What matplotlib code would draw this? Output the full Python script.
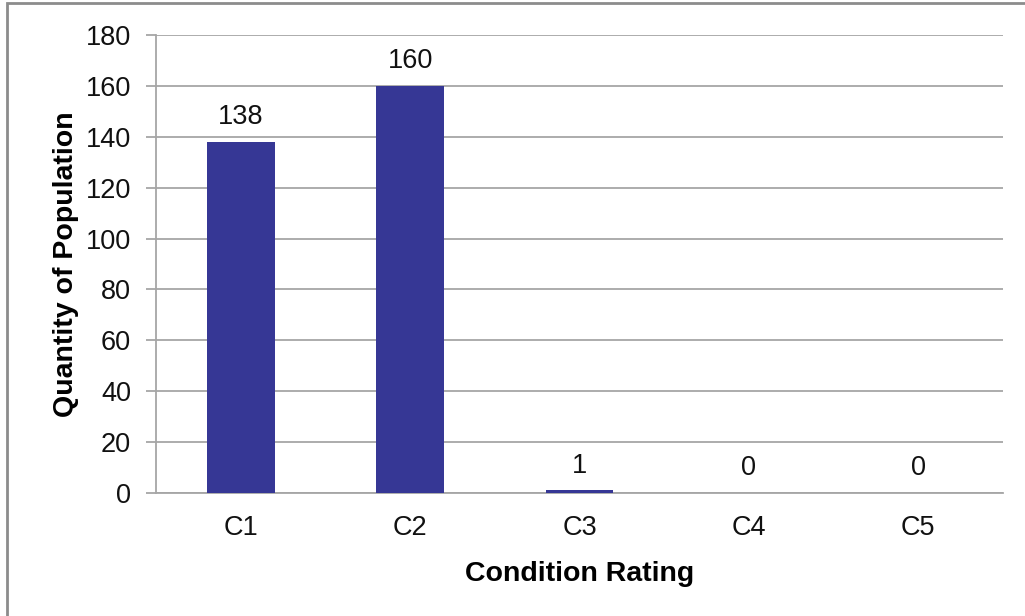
import matplotlib
matplotlib.use("Agg")
import matplotlib.pyplot as plt
from matplotlib.patches import Rectangle

categories = ["C1", "C2", "C3", "C4", "C5"]
counts = [138, 160, 1, 0, 0]
y_ticks = [0, 20, 40, 60, 80, 100, 120, 140, 160, 180]

plt.rcParams["font.family"] = ["Liberation Sans", "DejaVu Sans"]

fig = plt.figure(figsize=(10.25, 6.16), dpi=100)
ax = fig.add_axes([156 / 1025, 1 - 493 / 616, (1003 - 156) / 1025, (493 - 35) / 616])

grid_color = "#a6a6a6"
text_color = "#111111"
x = list(range(len(categories)))
ax.bar(x, counts, width=0.4, color="#363795", zorder=3)

for xi, v in zip(x, counts):
    ax.annotate(str(v), (xi, v), xytext=(0, 8.5), textcoords="offset points",
                ha="center", va="bottom", fontsize=19.5, color=text_color)

ax.set_xlim(-0.5, len(categories) - 0.5)
ax.set_ylim(0, 180)
ax.set_yticks(y_ticks)
ax.set_xticks(x)
ax.set_xticklabels(categories)

ax.yaxis.grid(True, color=grid_color, linewidth=1.3, zorder=0)
ax.set_axisbelow(True)
for side in ["top", "right"]:
    ax.spines[side].set_visible(False)
ax.spines["left"].set_color(grid_color)
ax.spines["left"].set_linewidth(1.3)
ax.spines["bottom"].set_color(grid_color)
ax.spines["bottom"].set_linewidth(1.3)

ax.tick_params(axis="y", length=7, width=1.3, color=grid_color, labelsize=19.5,
               pad=11, labelcolor=text_color)
ax.tick_params(axis="x", length=0, labelsize=19.5, pad=16, labelcolor=text_color)

ax.set_ylabel("Quantity of Population", fontsize=20.5, fontweight="bold", labelpad=5)
ax.set_xlabel("Condition Rating", fontsize=20.5, fontweight="bold", labelpad=14)

# outer frame on the left and top edges
fig.patches.append(Rectangle((7 / 1025, -0.1), 1.2, 1 - 3 / 616 + 0.1,
                             transform=fig.transFigure, fill=False,
                             edgecolor="#8c8c8c", linewidth=2))

fig.savefig("out.png", dpi=100)
